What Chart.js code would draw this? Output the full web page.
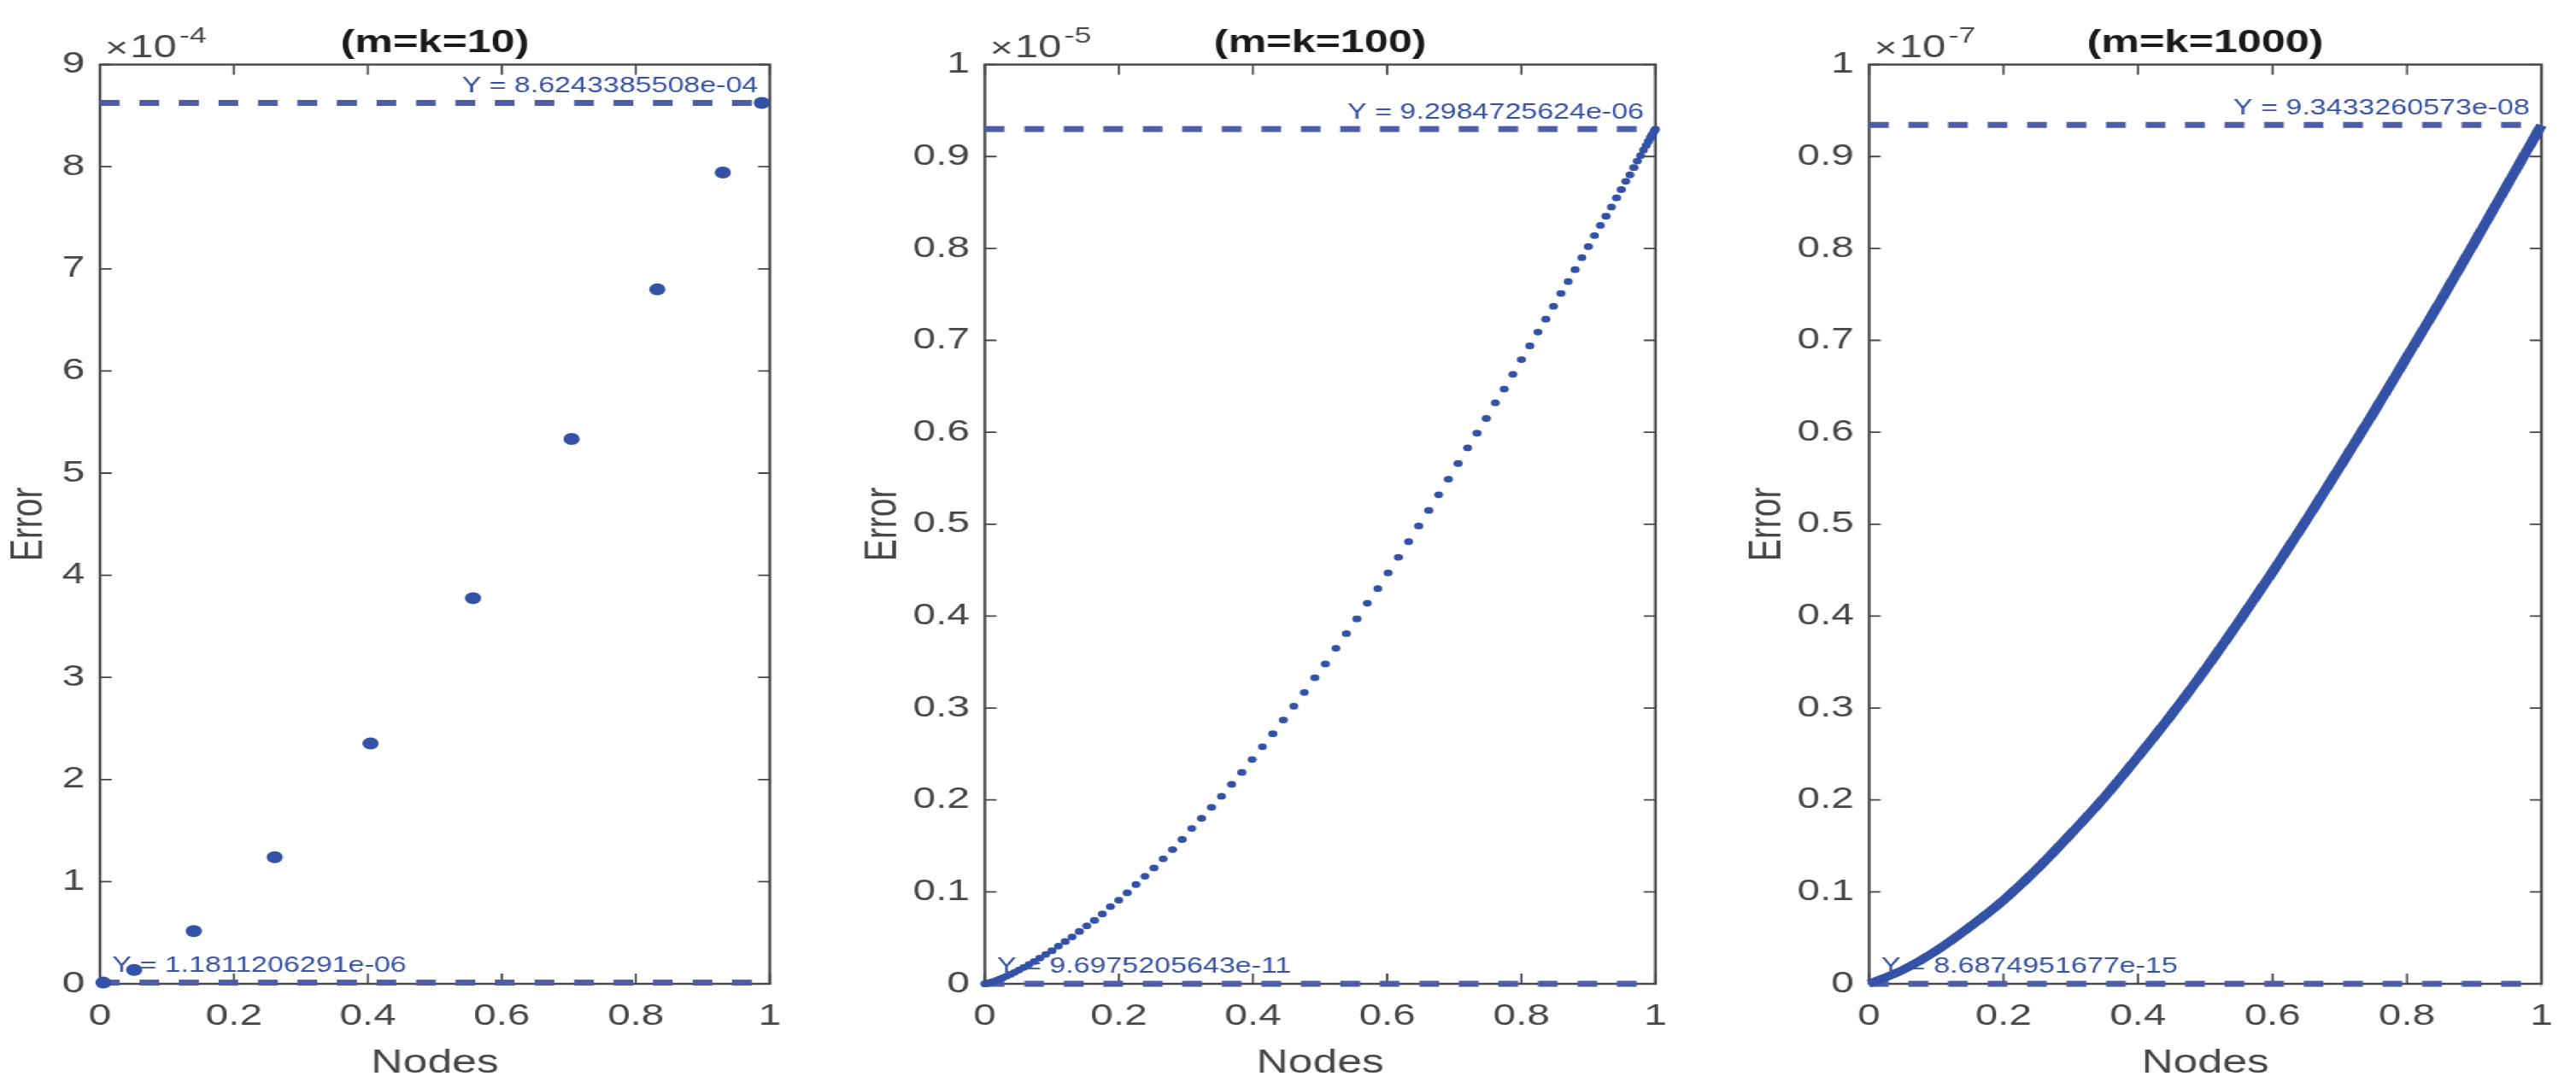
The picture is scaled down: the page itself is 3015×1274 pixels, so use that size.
<!DOCTYPE html>
<html><head><meta charset="utf-8">
<script src="https://cdn.jsdelivr.net/npm/chart.js@4.4.1/dist/chart.umd.min.js"></script>
<style>
html,body{margin:0;padding:0;background:#fff;overflow:hidden;width:3015px;height:1274px;}
#wrap{position:absolute;left:0;top:0;width:2217px;height:1274px;transform:scaleX(1.36);transform-origin:0 0;}
#wrap canvas{position:absolute;top:0;}
</style></head><body>
<div id="wrap"></div>
<script>
// ---------------- data ----------------
const titles = ['(m=k=10)', '(m=k=100)', '(m=k=1000)'];
const exponents = [-4, -5, -7];
const yTopTick = [9, 1, 1];
const yStep = [1, 0.1, 0.1];
const xTickStep = 0.2;
const maxError = [8.6243385508e-04, 9.2984725624e-06, 9.3433260573e-08];
const minError = [1.1811206291e-06, 9.6975205643e-11, 8.6874951677e-15];

// m=k=10 (values in units of 1e-4)
const nodes10 = [0.005, 0.051, 0.140, 0.261, 0.404, 0.557, 0.704, 0.832, 0.930, 0.988];
const error10 = [0.0118, 0.136, 0.516, 1.239, 2.353, 3.776, 5.335, 6.799, 7.943, 8.624];

// m=k=100 (values in units of 1e-5)
const nodes100 = [0.0000617, 0.000555, 0.001541, 0.003020, 0.004988, 0.007446, 0.010388, 0.013815, 0.017722, 0.022103,
  0.026957, 0.032278, 0.038060, 0.044298, 0.050986, 0.058117, 0.065684, 0.073680, 0.082096, 0.090925,
  0.100157, 0.109785, 0.119797, 0.130184, 0.140937, 0.152043, 0.163494, 0.175276, 0.187378, 0.199790,
  0.212497, 0.225488, 0.238751, 0.252271, 0.266035, 0.280031, 0.294243, 0.308658, 0.323263, 0.338042,
  0.352980, 0.368064, 0.383277, 0.398606, 0.414036, 0.429550, 0.445133, 0.460770, 0.476447, 0.492146,
  0.507854, 0.523553, 0.539230, 0.554867, 0.570450, 0.585964, 0.601394, 0.616723, 0.631936, 0.647020,
  0.661958, 0.676737, 0.691342, 0.705757, 0.719969, 0.733965, 0.747729, 0.761249, 0.774512, 0.787503,
  0.800210, 0.812622, 0.824724, 0.836506, 0.847957, 0.859063, 0.869816, 0.880203, 0.890215, 0.899843,
  0.909075, 0.917904, 0.926320, 0.934316, 0.941883, 0.949014, 0.955702, 0.961940, 0.967722, 0.973043,
  0.977897, 0.982278, 0.986185, 0.989612, 0.992554, 0.995012, 0.996980, 0.998459, 0.999445, 0.999938];
const error100 = [0.0000, 0.00004, 0.00016, 0.00038, 0.00073, 0.00123, 0.0019, 0.00275, 0.0038, 0.0051,
  0.0066, 0.0083, 0.0103, 0.0125, 0.0150, 0.0178, 0.0209, 0.0242, 0.028, 0.032,
  0.036, 0.041, 0.046, 0.051, 0.057, 0.063, 0.069, 0.076, 0.084, 0.091,
  0.099, 0.108, 0.117, 0.126, 0.136, 0.146, 0.157, 0.169, 0.180, 0.192,
  0.204, 0.217, 0.230, 0.244, 0.258, 0.272, 0.287, 0.302, 0.317, 0.333,
  0.348, 0.365, 0.381, 0.397, 0.414, 0.430, 0.447, 0.464, 0.481, 0.498,
  0.515, 0.532, 0.549, 0.566, 0.583, 0.599, 0.615, 0.632, 0.647, 0.663,
  0.679, 0.694, 0.709, 0.723, 0.737, 0.751, 0.764, 0.777, 0.790, 0.802,
  0.814, 0.825, 0.835, 0.845, 0.855, 0.864, 0.873, 0.880, 0.888, 0.895,
  0.901, 0.907, 0.912, 0.9165, 0.9205, 0.9235, 0.926, 0.928, 0.929, 0.9298];

// m=k=1000 (values in units of 1e-7)
const nodes1000 = [0, 0.05, 0.10, 0.15, 0.20, 0.25, 0.30, 0.35, 0.40, 0.45, 0.50,
  0.55, 0.60, 0.65, 0.70, 0.75, 0.80, 0.85, 0.90, 0.95, 1.00];
const error1000 = [0, 0.015, 0.036, 0.062, 0.091, 0.125, 0.163, 0.203, 0.247, 0.293, 0.342,
  0.394, 0.448, 0.504, 0.562, 0.621, 0.682, 0.743, 0.806, 0.870, 0.934];

const seriesX = [nodes10, nodes100, nodes1000];
const seriesY = [error10, error100, error1000];

// ---------------- layout / style ----------------
const H = 1274, SX = 1.36;
const FONT = '"Liberation Sans", Arial, Helvetica, sans-serif';
const AXIS = '#464646';
const DOT = '#3452a5';
const DASH = '#4d5da9';
const TIP = '#3350a2';
const layoutFull = [
  {plotL: 117, plotR: 901, errX: 34},
  {plotL: 1152, plotR: 1937, errX: 1033},
  {plotL: 2188, plotR: 2975, errX: 2069}
];
const PLOT_BOTTOM = 1152;

function fmtTip(v) {
  return 'Y = ' + v.toExponential(10).replace(/e([+-])(\d)$/, 'e$10$2');
}
function fmtTick(v) { return String(Math.round(v * 10) / 10); }

const framePlugin = {
  id: 'frame',
  beforeDatasetsDraw(chart, args, opts) {
    const {ctx, chartArea: a, scales} = chart;
    ctx.save();
    ctx.strokeStyle = AXIS;
    ctx.lineWidth = 2.4;
    ctx.strokeRect(a.left, a.top, a.right - a.left, a.bottom - a.top);
    ctx.lineWidth = 1.8;
    ctx.beginPath();
    scales.x.ticks.forEach(t => {
      const px = scales.x.getPixelForValue(t.value);
      ctx.moveTo(px, a.bottom); ctx.lineTo(px, a.bottom - 12);
      ctx.moveTo(px, a.top); ctx.lineTo(px, a.top + 12);
    });
    scales.y.ticks.forEach(t => {
      const py = scales.y.getPixelForValue(t.value);
      ctx.moveTo(a.left, py); ctx.lineTo(a.left + 10, py);
      ctx.moveTo(a.right, py); ctx.lineTo(a.right - 10, py);
    });
    ctx.stroke();
    // exponent label  x10^exp
    ctx.fillStyle = AXIS;
    ctx.textBaseline = 'alphabetic';
    ctx.textAlign = 'left';
    ctx.font = '34px ' + FONT;
    ctx.fillText('\u00d7', a.left + 4.4, 67);
    ctx.font = '36px ' + FONT;
    ctx.fillText('10', a.left + 26, 67);
    ctx.font = '26px ' + FONT;
    ctx.fillText(String(opts.exp), a.left + 68.5, 50);
    // datatip labels
    const scale = Math.pow(10, opts.exp);
    ctx.fillStyle = TIP;
    ctx.font = '25px ' + FONT;
    const yMaxPx = scales.y.getPixelForValue(opts.maxVal / scale);
    ctx.textAlign = 'right';
    ctx.fillText(fmtTip(opts.maxVal), a.right - 10, yMaxPx - 12.5);
    const yMinPx = scales.y.getPixelForValue(opts.minVal / scale);
    ctx.textAlign = 'left';
    ctx.fillText(fmtTip(opts.minVal), a.left + 10.5, yMinPx - 13);
    ctx.restore();
  }
};

const wrap = document.getElementById('wrap');
for (let i = 0; i < 3; i++) {
  const L = layoutFull[i];
  const plotL = L.plotL / SX, plotR = L.plotR / SX, errC = L.errX / SX;
  const canvasLeft = errC - 25;
  const yw = plotL - canvasLeft;
  const canvasW = Math.round(plotR - canvasLeft + 30);
  const padR = canvasW - (plotR - canvasLeft);
  const cv = document.createElement('canvas');
  cv.width = canvasW; cv.height = H;
  cv.style.left = canvasLeft + 'px';
  cv.style.width = canvasW + 'px';
  cv.style.height = H + 'px';
  wrap.appendChild(cv);

  const sc = Math.pow(10, exponents[i]);
  const pts = seriesX[i].map((x, k) => ({x: x, y: seriesY[i][k]}));
  const mainDs = (i < 2) ? {
    data: pts, showLine: false, pointStyle: 'circle',
    pointRadius: i === 0 ? 7 : 3.9, pointBorderWidth: 0,
    pointBackgroundColor: DOT, backgroundColor: DOT, borderColor: DOT, clip: false
  } : {
    data: pts, showLine: true, pointRadius: 0, borderColor: DOT, borderWidth: 9.5,
    cubicInterpolationMode: 'monotone', fill: false, clip: false
  };
  const dashMax = {data: [{x: 0, y: maxError[i] / sc}, {x: 1, y: maxError[i] / sc}],
    showLine: true, pointRadius: 0, borderColor: DASH, borderWidth: 7, borderDash: [17, 17], clip: false};
  const dashMin = {data: [{x: 0, y: minError[i] / sc}, {x: 1, y: minError[i] / sc}],
    showLine: true, pointRadius: 0, borderColor: DASH, borderWidth: 7, borderDash: [17, 17], clip: false};

  new Chart(cv, {
    type: 'scatter',
    data: {datasets: [mainDs, dashMax, dashMin]},
    options: {
      responsive: false, animation: false, devicePixelRatio: 1, events: [],
      layout: {padding: {top: 28.4, right: padR, bottom: 0, left: 0}},
      plugins: {
        legend: {display: false}, tooltip: {enabled: false},
        title: {display: true, text: titles[i], fullSize: false, color: '#1a1a1a',
          font: {family: FONT, size: 37, weight: 'bold', lineHeight: 1.2}, padding: {top: 0, bottom: 2.8}},
        frame: {exp: exponents[i], maxVal: maxError[i], minVal: minError[i]}
      },
      scales: {
        x: {
          type: 'linear', min: 0, max: 1,
          afterFit(s) { s.height = H - PLOT_BOTTOM; },
          grid: {display: false, drawTicks: false}, border: {display: false},
          ticks: {stepSize: xTickStep, padding: 17, autoSkip: false, maxRotation: 0, color: AXIS,
            font: {family: FONT, size: 35}, callback: v => fmtTick(v)},
          title: {display: true, text: 'Nodes', color: AXIS, font: {family: FONT, size: 38, lineHeight: 1.2},
            padding: {top: 0, bottom: 6}}
        },
        y: {
          type: 'linear', min: 0, max: yTopTick[i],
          afterFit(s) { s.width = yw; },
          grid: {display: false, drawTicks: false}, border: {display: false},
          ticks: {stepSize: yStep[i], padding: 13, autoSkip: false, color: AXIS,
            font: {family: FONT, size: 35}, callback: v => fmtTick(v)},
          title: {display: true, text: 'Error', color: AXIS, font: {family: FONT, size: 39, lineHeight: 1.2},
            padding: {top: 1.6, bottom: 0}}
        }
      }
    },
    plugins: [framePlugin]
  });
}
</script>
</body></html>
